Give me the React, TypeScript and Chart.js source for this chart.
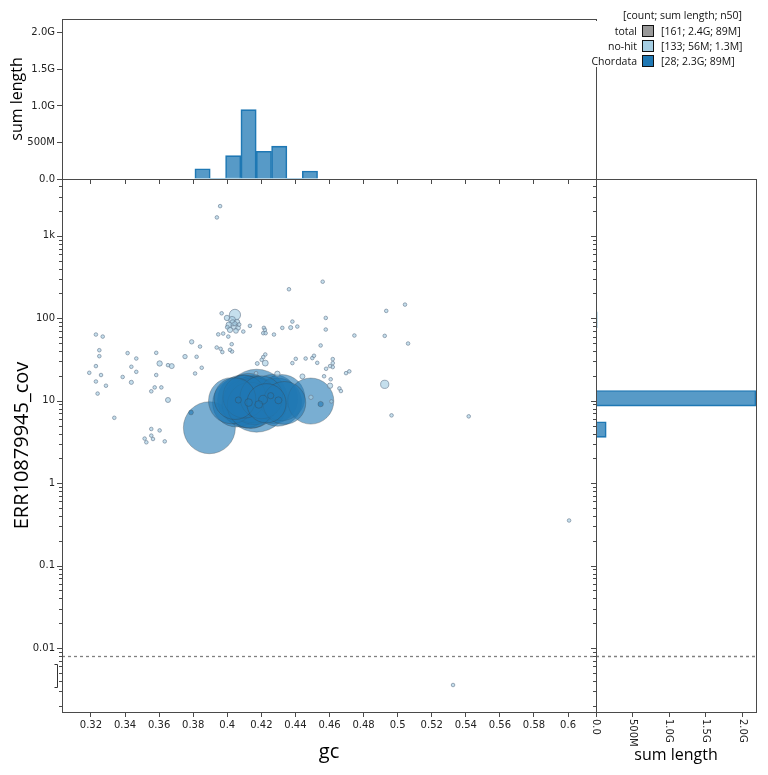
import React, { useEffect, useRef } from "react";
import { Chart, registerables } from "chart.js";
Chart.register(...registerables);

// ---------- data ----------
const gcTicks = [0.32, 0.34, 0.36, 0.38, 0.4, 0.42, 0.44, 0.46, 0.48, 0.5, 0.52, 0.54, 0.56, 0.58, 0.6];
const covMajorTicks = [0.01, 0.1, 1, 10, 100, 1000];
const covMajorLabels = ["0.01", "0.1", "1", "10", "100", "1k"];
const lengthTicks = [0, 5e8, 1e9, 1.5e9, 2e9];
const lengthTickLabels = ["0.0", "500M", "1.0G", "1.5G", "2.0G"];

const GC_MIN = 0.303;
const GC_MAX = 0.6164;
const COV_MIN = 0.00167;
const COV_MAX = 4900;
const LEN_MAX = 2.19e9;
const ZERO_COV = 0.008;

// Chordata contigs: gc, coverage, length (Mb)
const chordataGc = [0.3895, 0.4025, 0.4055, 0.4045, 0.409, 0.411, 0.4125, 0.414, 0.4155, 0.41, 0.4135, 0.416, 0.4172, 0.42, 0.423, 0.427, 0.4295, 0.432, 0.4335, 0.449, 0.3787, 0.4548, 0.4125, 0.421, 0.43, 0.4065, 0.4185, 0.4255];
const chordataCov = [4.7, 10.0, 9.4, 10.6, 10.2, 9.2, 10.8, 9.6, 10.4, 11.2, 8.8, 9.9, 10.0, 11.0, 9.3, 10.5, 9.6, 10.9, 9.4, 9.9, 7.2, 9.1, 9.5, 10.3, 10.1, 10.2, 9.0, 11.5];
const chordataLen = [140, 110, 120, 90, 130, 120, 125, 140, 115, 95, 110, 115, 205, 95, 80, 125, 120, 110, 95, 110, 1.2, 1.5, 3, 4, 2.5, 2, 3, 2];

// no-hit contigs: gc, coverage, length (Mb)
const noHitGc = [0.3229, 0.3269, 0.3249, 0.3249, 0.3229, 0.319, 0.3259, 0.3229, 0.3288, 0.3239, 0.3337, 0.3415, 0.3466, 0.3437, 0.3466, 0.3386, 0.3437, 0.3583, 0.3603, 0.3583, 0.3574, 0.3554, 0.3613, 0.3652, 0.3652, 0.3674, 0.3752, 0.3791, 0.384, 0.382, 0.385, 0.3811, 0.3554, 0.3603, 0.3554, 0.3515, 0.3525, 0.3564, 0.3633, 0.3967, 0.4045, 0.3998, 0.4028, 0.4057, 0.401, 0.4039, 0.4063, 0.4016, 0.4051, 0.4033, 0.3947, 0.3976, 0.4006, 0.3938, 0.3961, 0.3971, 0.4016, 0.4028, 0.4026, 0.456, 0.4362, 0.4094, 0.4133, 0.4215, 0.4221, 0.4211, 0.4225, 0.4274, 0.4323, 0.4372, 0.4382, 0.4411, 0.4578, 0.4578, 0.4746, 0.4548, 0.4223, 0.4211, 0.4202, 0.4176, 0.4223, 0.4382, 0.4402, 0.446, 0.4499, 0.4509, 0.4528, 0.4619, 0.4619, 0.4619, 0.4603, 0.458, 0.4697, 0.4716, 0.4568, 0.4607, 0.4294, 0.4441, 0.4603, 0.4658, 0.4667, 0.4169, 0.5043, 0.4933, 0.4924, 0.5061, 0.4924, 0.4964, 0.5417, 0.6006, 0.5325, 0.3958, 0.3939, 0.4491, 0.4611, 0.4045, 0.4, 0.4069];
const noHitCov = [63.5, 60, 41, 34.7, 26.3, 21.8, 20.5, 17.1, 15.2, 12.2, 6.2, 37.8, 32.5, 25.8, 22.4, 19.4, 16.7, 38.1, 28.3, 20.5, 14.5, 13.0, 14.5, 10.2, 27.0, 26.3, 34.3, 51.8, 45.4, 34.1, 25.1, 21.4, 4.54, 4.36, 3.77, 3.47, 3.13, 3.43, 3.21, 115, 110, 101, 95.7, 90.4, 83.2, 80.9, 76.5, 72.4, 70.4, 88, 63.8, 65.3, 60, 44.2, 42.6, 38.9, 41.4, 39.5, 48.5, 278, 225, 69, 80.9, 76.5, 72.4, 66, 66, 63.5, 76.5, 77.1, 91.2, 79.4, 101, 73, 61.8, 46.8, 36.4, 33.8, 31.3, 28.3, 28.6, 28.6, 32.2, 32.5, 32.9, 35.1, 28.8, 32, 28.6, 25.6, 26.3, 24.4, 21.6, 22.7, 19.8, 18.2, 21.2, 19.7, 15.2, 14.1, 13.1, 21.6, 146.6, 123, 61.2, 49.4, 15.8, 6.64, 6.46, 0.352, 0.00355, 2296, 1675, 11, 9.8, 86, 78, 84];
const noHitLen = [0.4, 0.4, 0.4, 0.4, 0.5, 0.4, 0.4, 0.5, 0.5, 0.4, 0.4, 0.5, 0.4, 0.5, 0.5, 0.4, 0.9, 0.5, 1.5, 0.4, 0.4, 0.5, 0.4, 1.3, 0.4, 1.3, 1.0, 1.0, 0.5, 0.4, 0.5, 0.5, 0.4, 0.4, 0.4, 0.4, 0.4, 0.4, 0.4, 0.5, 6.5, 1.5, 2.5, 1.5, 1.8, 2.5, 1.2, 1.5, 1.2, 2.0, 0.5, 0.5, 0.5, 0.5, 0.5, 0.4, 0.4, 0.5, 0.4, 0.4, 0.4, 0.4, 0.5, 0.4, 0.4, 0.4, 0.4, 0.4, 0.5, 0.9, 0.4, 0.4, 0.4, 0.4, 0.5, 0.4, 0.4, 0.4, 0.4, 0.8, 1.8, 0.5, 0.4, 0.4, 0.4, 0.4, 0.5, 0.4, 0.4, 0.4, 0.4, 0.4, 0.4, 0.4, 0.4, 0.4, 1.5, 1.3, 1.5, 0.5, 0.4, 0.5, 0.4, 0.5, 0.4, 0.4, 3.5, 0.3, 0.4, 0.3, 0.3, 0.3, 0.4, 1.0, 0.4, 1.0, 0.8, 0.8];

// gc histogram (bin centres, Mb per bin)
const gcBinCenters = [0.3855, 0.3945, 0.4035, 0.4125, 0.4215, 0.4305, 0.4395, 0.4485];
const gcHistChordata = [140, 0, 320, 950, 380, 450, 0, 110];
const gcHistNoHit = [3, 4, 12, 5, 3, 2, 2, 1];

// coverage histogram (bin centres, Mb per bin)
const covBinCenters = [4.47, 6.92, 10.7, 16.6, 25.7, 39.8, 61.7, 95.5, 148, 229];
const covHistChordata = [140, 0, 2190, 0, 0, 0, 0, 0, 0, 0];
const covHistNoHit = [0, 1, 4, 5, 9, 7, 6, 20, 1, 1];

const legendLabels = ["total", "no-hit", "Chordata"];
const legendValues = ["[161; 2.4G; 89M]", "[133; 56M; 1.3M]", "[28; 2.3G; 89M]"];
const legendColors = ["#999999", "#a6cee3", "#1f78b4"];

// ---------- styles ----------
const AXIS = "#4a4a4a";
const TICK_FONT = { family: "DejaVu Sans", size: 10 };
const TITLE_FAMILY = "Open Sans";
const CHORD_FILL = "rgba(31,120,180,0.6)";
const CHORD_BORDER = "rgba(60,60,60,0.3)";
const NOHIT_FILL = "rgba(166,206,227,0.65)";
const NOHIT_BORDER = "rgba(105,125,145,0.8)";
const HIST_CHORD_FILL = "rgba(31,120,180,0.75)";
const HIST_CHORD_BORDER = "#1f78b4";
const HIST_NOHIT_FILL = "rgba(166,206,227,0.8)";
const HIST_NOHIT_BORDER = "#a6cee3";

const radiusFor = (lenMb: number) => Math.max(1.8, 26 * Math.sqrt(lenMb / 140));

const covAllTicks: { v: number; major: boolean }[] = [];
for (let e = -3; e <= 3; e++) {
  for (let m = 1; m <= 9; m++) {
    const v = Number((m * Math.pow(10, e)).toPrecision(3));
    if (v >= COV_MIN && v <= COV_MAX) covAllTicks.push({ v, major: m === 1 });
  }
}

const fmtGc = (v: number) => {
  const s = v.toFixed(2);
  return s.endsWith("0") ? s.slice(0, -1) : s;
};

const boxPlugin = {
  id: "boxFrame",
  afterDraw(chart: any) {
    const { ctx, chartArea: a } = chart;
    ctx.save();
    ctx.strokeStyle = AXIS;
    ctx.lineWidth = 1;
    ctx.strokeRect(Math.round(a.left) + 0.5, Math.round(a.top) + 0.5, Math.round(a.right - a.left), Math.round(a.bottom - a.top));
    ctx.restore();
  },
};

const logTickPlugin = {
  id: "logTicks",
  afterDraw(chart: any) {
    const s = chart.scales.y;
    const ctx = chart.ctx;
    const x0 = chart.chartArea.left;
    ctx.save();
    ctx.strokeStyle = AXIS;
    ctx.lineWidth = 1;
    covAllTicks.forEach((t) => {
      const y = Math.round(s.getPixelForValue(t.v)) + 0.5;
      const len = t.major ? 5 : 3;
      ctx.beginPath();
      ctx.moveTo(x0 - len, y);
      ctx.lineTo(x0, y);
      ctx.stroke();
    });
    ctx.restore();
  },
};

const dashPlugin = {
  id: "zeroLine",
  afterDatasetsDraw(chart: any) {
    const s = chart.scales.y;
    const { ctx, chartArea: a } = chart;
    const y = Math.round(s.getPixelForValue(ZERO_COV)) + 0.5;
    ctx.save();
    ctx.strokeStyle = "#808080";
    ctx.lineWidth = 1.3;
    ctx.setLineDash([3, 3]);
    ctx.beginPath();
    ctx.moveTo(a.left, y);
    ctx.lineTo(a.right, y);
    ctx.stroke();
    ctx.restore();
  },
};

const bracketPlugin = {
  id: "bracket",
  afterDraw(chart: any) {
    const s = chart.scales.y;
    const { ctx, chartArea: a } = chart;
    const y1 = Math.round(s.getPixelForValue(0.0064)) + 0.5;
    const y2 = Math.round(s.getPixelForValue(0.0034)) + 0.5;
    const x = a.left - 4.5;
    ctx.save();
    ctx.strokeStyle = "#333";
    ctx.lineWidth = 1;
    ctx.beginPath();
    ctx.moveTo(x - 3, y1);
    ctx.lineTo(x, y1);
    ctx.lineTo(x, y2);
    ctx.lineTo(x - 3, y2);
    ctx.stroke();
    ctx.restore();
  },
};

const rotatedLabelPlugin = {
  id: "rotLabels",
  afterDraw(chart: any) {
    const s = chart.scales.x;
    const { ctx, chartArea: a } = chart;
    ctx.save();
    ctx.fillStyle = "#222";
    ctx.font = `${TICK_FONT.size}px "${TICK_FONT.family}"`;
    ctx.textAlign = "left";
    ctx.textBaseline = "middle";
    lengthTicks.forEach((v, i) => {
      const x = s.getPixelForValue(v);
      ctx.save();
      ctx.translate(x, a.bottom + 7);
      ctx.rotate(Math.PI / 2);
      ctx.fillText(lengthTickLabels[i], 0, 0);
      ctx.restore();
    });
    ctx.restore();
  },
};

export default function App() {
  const topRef = useRef<HTMLCanvasElement>(null);
  const mainRef = useRef<HTMLCanvasElement>(null);
  const rightRef = useRef<HTMLCanvasElement>(null);

  useEffect(() => {
    const charts: Chart[] = [];

    // ---------- scatter ----------
    const pts = [
      ...chordataGc.map((g, i) => ({ x: g, y: chordataCov[i], len: chordataLen[i], cat: 1 })),
      ...noHitGc.map((g, i) => ({ x: g, y: noHitCov[i], len: noHitLen[i], cat: 0 })),
    ].sort((a, b) => b.len - a.len);

    if (mainRef.current) {
      charts.push(
        new Chart(mainRef.current, {
          type: "bubble",
          data: {
            datasets: [
              {
                data: pts.map((p) => ({ x: p.x, y: p.y, r: radiusFor(p.len) })),
                backgroundColor: pts.map((p) => (p.cat ? CHORD_FILL : NOHIT_FILL)),
                borderColor: pts.map((p) => (p.cat ? CHORD_BORDER : NOHIT_BORDER)),
                borderWidth: pts.map((p) => (p.cat ? 1 : 0.8)),
              } as any,
            ],
          },
          options: {
            responsive: false,
            animation: false,
            events: [],
            layout: { autoPadding: false, padding: { top: 9, right: 10, left: 0, bottom: 0 } },
            plugins: { legend: { display: false }, tooltip: { enabled: false } },
            scales: {
              x: {
                type: "linear",
                min: GC_MIN,
                max: GC_MAX,
                afterBuildTicks: (s: any) => {
                  s.ticks = gcTicks.map((v) => ({ value: v }));
                },
                afterFit: (s: any) => {
                  s.height = 63;
                  s.paddingLeft = 0;
                  s.paddingRight = 0;
                },
                ticks: { callback: (v: any) => fmtGc(Number(v)), font: TICK_FONT, color: "#222", padding: 2, maxRotation: 0, autoSkip: false },
                grid: { drawOnChartArea: false, drawTicks: true, tickLength: 5, color: AXIS },
                border: { display: true, color: AXIS, width: 1 },
                title: { display: true, text: "gc", font: { family: TITLE_FAMILY, size: 20 }, color: "#000", padding: { top: 0, bottom: 11 } },
              },
              y: {
                type: "logarithmic",
                min: COV_MIN,
                max: COV_MAX,
                afterBuildTicks: (s: any) => {
                  s.ticks = covMajorTicks.map((v) => ({ value: v }));
                },
                afterFit: (s: any) => {
                  s.width = 62;
                  s.paddingTop = 0;
                  s.paddingBottom = 0;
                },
                ticks: {
                  callback: (v: any) => {
                    const i = covMajorTicks.indexOf(Number(v));
                    return i >= 0 ? covMajorLabels[i] : "";
                  },
                  font: TICK_FONT,
                  color: "#222",
                  padding: 7,
                  autoSkip: false,
                },
                grid: { drawOnChartArea: false, drawTicks: false, color: AXIS },
                border: { display: true, color: AXIS, width: 1 },
                title: { display: true, text: "ERR10879945_cov", font: { family: TITLE_FAMILY, size: 20 }, color: "#000", padding: { top: 10, bottom: 0 } },
              },
            },
          } as any,
          plugins: [boxPlugin, logTickPlugin, dashPlugin, bracketPlugin],
        })
      );
    }

    // ---------- top histogram ----------
    if (topRef.current) {
      charts.push(
        new Chart(topRef.current, {
          type: "bar",
          data: {
            datasets: [
              {
                data: gcBinCenters.map((c, i) => ({ x: c, y: gcHistNoHit[i] * 1e6 })),
                backgroundColor: HIST_NOHIT_FILL,
                borderColor: HIST_NOHIT_BORDER,
                borderWidth: 0,
                grouped: false,
                barPercentage: 1,
                categoryPercentage: 1,
              },
              {
                data: gcBinCenters.map((c, i) => ({ x: c, y: gcHistChordata[i] * 1e6 })),
                backgroundColor: HIST_CHORD_FILL,
                borderColor: HIST_CHORD_BORDER,
                borderWidth: (ctx: any) => (ctx.raw && ctx.raw.y > 0 ? 1 : 0),
                grouped: false,
                barPercentage: 1,
                categoryPercentage: 1,
              },
            ],
          } as any,
          options: {
            responsive: false,
            animation: false,
            events: [],
            layout: { autoPadding: false, padding: { top: 19, right: 10, left: 0, bottom: 0 } },
            plugins: { legend: { display: false }, tooltip: { enabled: false } },
            scales: {
              x: {
                type: "linear",
                min: GC_MIN,
                max: GC_MAX,
                offset: false,
                afterBuildTicks: (s: any) => {
                  s.ticks = gcTicks.map((v) => ({ value: v }));
                },
                afterFit: (s: any) => {
                  s.height = 7;
                  s.paddingLeft = 0;
                  s.paddingRight = 0;
                },
                ticks: { display: false, autoSkip: false },
                grid: { drawOnChartArea: false, drawTicks: true, tickLength: 5, color: AXIS, offset: false },
                border: { display: true, color: AXIS, width: 1 },
              },
              y: {
                type: "linear",
                min: 0,
                max: LEN_MAX,
                afterBuildTicks: (s: any) => {
                  s.ticks = lengthTicks.map((v) => ({ value: v }));
                },
                afterFit: (s: any) => {
                  s.width = 62;
                  s.paddingTop = 0;
                  s.paddingBottom = 0;
                },
                ticks: {
                  callback: (v: any) => {
                    const i = lengthTicks.indexOf(Number(v));
                    return i >= 0 ? lengthTickLabels[i] : "";
                  },
                  font: TICK_FONT,
                  color: "#222",
                  padding: 2,
                  autoSkip: false,
                },
                grid: { drawOnChartArea: false, drawTicks: true, tickLength: 5, color: AXIS },
                border: { display: true, color: AXIS, width: 1 },
                title: { display: true, text: "sum length", font: { family: TITLE_FAMILY, size: 16 }, color: "#000", padding: { top: 8, bottom: 0 } },
              },
            },
          } as any,
          plugins: [boxPlugin],
        })
      );
    }

    // ---------- right histogram ----------
    if (rightRef.current) {
      charts.push(
        new Chart(rightRef.current, {
          type: "bar",
          data: {
            datasets: [
              {
                data: covBinCenters.map((c, i) => ({ y: c, x: covHistNoHit[i] * 1e6 })),
                backgroundColor: HIST_NOHIT_FILL,
                borderColor: HIST_NOHIT_BORDER,
                borderWidth: 0,
                grouped: false,
                barPercentage: 1,
                categoryPercentage: 1,
              },
              {
                data: covBinCenters.map((c, i) => ({ y: c, x: covHistChordata[i] * 1e6 })),
                backgroundColor: HIST_CHORD_FILL,
                borderColor: HIST_CHORD_BORDER,
                borderWidth: (ctx: any) => (ctx.raw && ctx.raw.x > 0 ? 1 : 0),
                grouped: false,
                barPercentage: 1,
                categoryPercentage: 1,
              },
            ],
          } as any,
          options: {
            indexAxis: "y",
            responsive: false,
            animation: false,
            events: [],
            layout: { autoPadding: false, padding: { top: 9, right: 12, left: 0, bottom: 0 } },
            plugins: { legend: { display: false }, tooltip: { enabled: false } },
            scales: {
              y: {
                type: "logarithmic",
                min: COV_MIN,
                max: COV_MAX,
                offset: false,
                afterBuildTicks: (s: any) => {
                  s.ticks = covMajorTicks.map((v) => ({ value: v }));
                },
                afterFit: (s: any) => {
                  s.width = 10;
                  s.paddingTop = 0;
                  s.paddingBottom = 0;
                },
                ticks: { display: false, autoSkip: false },
                grid: { drawOnChartArea: false, drawTicks: false, color: AXIS, offset: false },
                border: { display: true, color: AXIS, width: 1 },
              },
              x: {
                type: "linear",
                min: 0,
                max: LEN_MAX,
                afterBuildTicks: (s: any) => {
                  s.ticks = lengthTicks.map((v) => ({ value: v }));
                },
                afterFit: (s: any) => {
                  s.height = 63;
                  s.paddingLeft = 0;
                  s.paddingRight = 0;
                },
                ticks: { display: false, autoSkip: false },
                grid: { drawOnChartArea: false, drawTicks: true, tickLength: 5, color: AXIS },
                border: { display: true, color: AXIS, width: 1 },
                title: { display: true, text: "sum length", font: { family: TITLE_FAMILY, size: 16 }, color: "#000", padding: { top: 0, bottom: 10 } },
              },
            },
          } as any,
          plugins: [boxPlugin, logTickPlugin, dashPlugin, rotatedLabelPlugin],
        })
      );
    }

    return () => charts.forEach((c) => c.destroy());
  }, []);

  const legendFont: React.CSSProperties = { fontFamily: "'Open Sans', sans-serif", fontSize: 10.5, color: "#111", lineHeight: "14px", whiteSpace: "nowrap" };

  return (
    <div style={{ position: "absolute", left: 0, top: 0, width: 768, height: 775, background: "#fff", overflow: "hidden" }}>
      <canvas ref={topRef} width={606} height={186} style={{ position: "absolute", left: 0, top: 0 }} />
      <canvas ref={mainRef} width={606} height={605} style={{ position: "absolute", left: 0, top: 170 }} />
      <canvas ref={rightRef} width={182} height={605} style={{ position: "absolute", left: 586, top: 170 }} />
      <div style={{ position: "absolute", left: 593, top: 21, width: 175, height: 46, background: "#fff" }} />
      <div style={{ ...legendFont, position: "absolute", left: 623, top: 8 }}>[count; sum length; n50]</div>
      {legendLabels.map((lab, i) => (
        <React.Fragment key={lab}>
          <div style={{ ...legendFont, position: "absolute", right: 768 - 637, top: 24 + i * 15, textAlign: "right" }}>{lab}</div>
          <div
            style={{
              position: "absolute",
              left: 642,
              top: 25 + i * 15,
              width: 10,
              height: 10,
              background: legendColors[i],
              border: "1.5px solid #111",
            }}
          />
          <div style={{ ...legendFont, position: "absolute", left: 661, top: 24 + i * 15 }}>{legendValues[i]}</div>
        </React.Fragment>
      ))}
    </div>
  );
}
